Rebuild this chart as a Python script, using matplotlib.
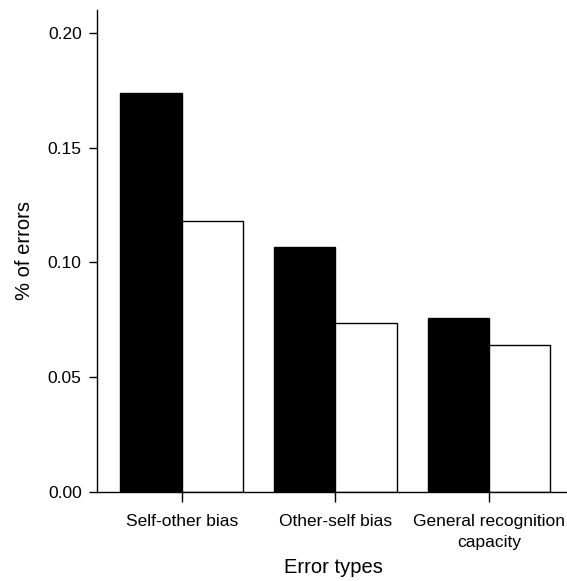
import matplotlib
matplotlib.use("Agg")
import matplotlib.pyplot as plt
import numpy as np

plt.rcParams['font.family'] = ['Liberation Sans', 'DejaVu Sans']

categories = ["Self-other bias", "Other-self bias", "General recognition\ncapacity"]
black_values = [0.1738, 0.1068, 0.0760]
white_values = [0.1181, 0.0735, 0.0641]
yticks = [0.00, 0.05, 0.10, 0.15, 0.20]

fig = plt.figure(figsize=(5.67, 5.81), dpi=100)
ax = fig.add_axes([0.171, 0.153, 0.835, 0.830])

x = np.arange(len(categories))
w = 0.4
ax.bar(x - w/2, black_values, width=w, color='black', edgecolor='black', linewidth=1)
ax.bar(x + w/2, white_values, width=w, color='white', edgecolor='black', linewidth=1)

ax.set_xlim(-0.552, 2.53)
ax.set_ylim(0, 0.21)
ax.set_yticks(yticks)
ax.set_yticklabels([f"{v:.2f}" for v in yticks], fontsize=12.5)
ax.set_xticks(x)
ax.set_xticklabels(categories, fontsize=12.5, linespacing=1.45)
ax.tick_params(axis='y', length=6, width=1, pad=5)
ax.tick_params(axis='x', length=7, width=1, pad=9)

for s in ['top', 'right']:
    ax.spines[s].set_visible(False)
for s in ['left', 'bottom']:
    ax.spines[s].set_linewidth(1)

ax.set_ylabel("% of errors", fontsize=14.5, labelpad=10)
ax.set_xlabel("Error types", fontsize=14.5, labelpad=6)

fig.savefig("out.png", dpi=100)
